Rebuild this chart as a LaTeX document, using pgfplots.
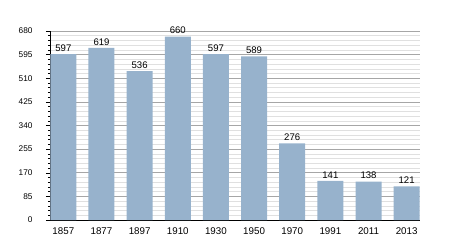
\documentclass[border=0pt]{standalone}
\usepackage{pgfplots}
\pgfplotsset{compat=1.18}
\usepackage{fontspec}
\setmainfont{Liberation Sans}
\definecolor{barc}{RGB}{151,178,204}
\begin{document}
\begin{tikzpicture}
\path[use as bounding box] (0,0) rectangle (450bp,250bp);
\begin{axis}[
  at={(50bp,30bp)}, anchor=south west,
  scale only axis, width=370bp, height=189bp,
  xmin=-0.35, xmax=9.35, ymin=0, ymax=680,
  axis x line*=bottom, axis y line*=left,
  axis line style={black, line width=0.8pt},
  ytick={0,85,...,680},
  minor y tick num=4,
  ymajorgrids, yminorgrids,
  major grid style={color=black!35, line width=0.6pt},
  minor grid style={color=black!12, line width=0.5pt},
  major tick length=4bp, minor tick length=2bp,
  tick style={black, line width=0.5pt},
  ytick pos=left, tick align=outside,
  xtick=data, xtick style={draw=none},
  xticklabels={1857,1877,1897,1910,1930,1950,1970,1991,2011,2013},
  xticklabel style={font=\fontsize{9.8}{11}\selectfont, yshift=-0.5bp},
  yticklabel style={font=\fontsize{8.3}{9}\selectfont, xshift=-10bp},
  /pgf/number format/assume math mode=true,
  /pgf/number format/.cd, 1000 sep={}, /pgfplots/.cd,
  ybar, bar width=26bp,
  nodes near coords,
  nodes near coords style={font=\fontsize{9.6}{11}\selectfont, inner sep=2.5bp},
  clip=false,
]
\addplot[fill=barc, draw=none] coordinates {
(0,597) (1,619) (2,536) (3,660) (4,597) (5,589) (6,276) (7,141) (8,138) (9,121)};
\end{axis}
\end{tikzpicture}
\end{document}
